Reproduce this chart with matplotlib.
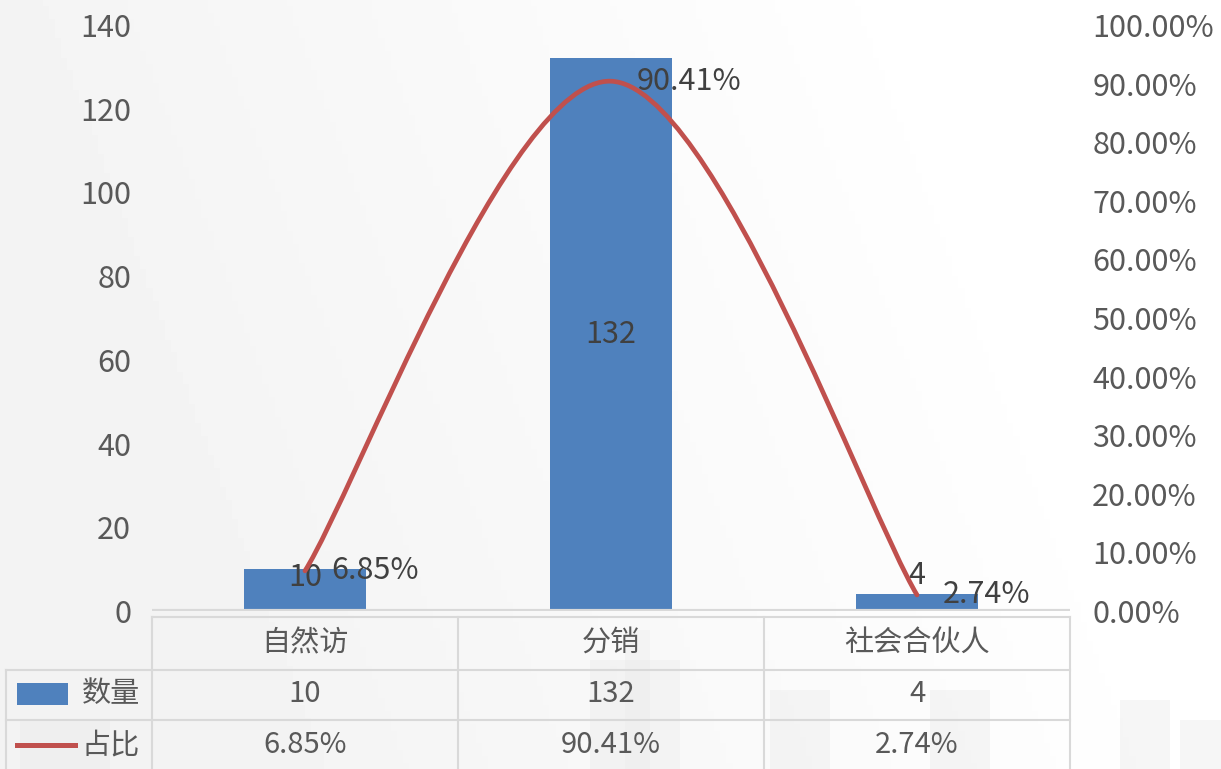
import matplotlib.pyplot as plt
from matplotlib.path import Path
from matplotlib.patches import PathPatch, Rectangle
from matplotlib.lines import Line2D
import numpy as np

plt.rcParams['font.family'] = ['Noto Sans CJK SC', 'DejaVu Sans']

categories = ["自然访", "分销", "社会合伙人"]
counts = [10, 132, 4]
shares = [0.0685, 0.9041, 0.0274]
share_labels = ["6.85%", "90.41%", "2.74%"]
series_names = ["数量", "占比"]

bar_color = '#4F81BD'
line_color = '#C0504D'
tick_color = '#595959'
label_color = '#404040'
grid_color = '#d9d9d9'

W, H = 1221, 769
fig = plt.figure(figsize=(W / 100, H / 100), dpi=100)

# faint background (grey wash + city silhouettes)
bg = fig.add_axes([0, 0, 1, 1], zorder=-10)
bg.set_xlim(0, W)
bg.set_ylim(H, 0)
bg.axis('off')
gx, gy = np.meshgrid(np.linspace(0, 1, 200), np.linspace(0, 1, 120))
wash = 0.955 + 0.045 * np.clip(gx * 1.3 - gy * 0.3, 0, 1)
bg.imshow(wash, extent=[0, W, H, 0], cmap='gray', vmin=0, vmax=1, aspect='auto')
for x0, y0, w in [(590, 660, 90), (625, 630, 25), (770, 690, 60), (930, 690, 60),
                  (1120, 700, 50), (1180, 720, 41), (20, 720, 90)]:
    bg.add_patch(Rectangle((x0, y0), w, H - y0, color='#ececec', alpha=0.45, lw=0))

# main axes
left, right = 152 / W, 1070 / W
bottom, top = (H - 611) / H, (H - 25) / H
ax = fig.add_axes([left, bottom, right - left, top - bottom])
ax.patch.set_alpha(0)
x = np.arange(len(categories))
ax.bar(x, counts, width=0.4, color=bar_color, zorder=2)
ax.set_xlim(-0.5, len(categories) - 0.5)
ax.set_ylim(0, 140)
ax.set_yticks(range(0, 141, 20))
ax.set_xticks([])
for s in ax.spines.values():
    s.set_visible(False)
ax.tick_params(axis='y', length=0, labelsize=22, labelcolor=tick_color, pad=15)
ax.axhline(0, color=grid_color, lw=3, zorder=3)

label_y = [8.1, 66, 8.6]
for xi, c, ly in zip(x, counts, label_y):
    ax.text(xi, ly, str(c), ha='center', va='center', fontsize=22, color=label_color, zorder=5)

ax2 = ax.twinx()
ax2.set_ylim(0, 1)
ax2.set_yticks(np.arange(0, 1.01, 0.1))
ax2.set_yticklabels([f"{v * 100:.2f}%" for v in np.arange(0, 1.01, 0.1)])
for s in ax2.spines.values():
    s.set_visible(False)
ax2.tick_params(axis='y', length=0, labelsize=22, labelcolor=tick_color, pad=16)

# smoothed line (Excel-style bezier through the points)
pts = np.column_stack([x, shares]).astype(float)
ext = np.vstack([pts[0], pts, pts[-1]])
verts = [tuple(pts[0])]
codes = [Path.MOVETO]
for i in range(len(pts) - 1):
    p0, p1, p2, p3 = ext[i], ext[i + 1], ext[i + 2], ext[i + 3]
    verts += [tuple(p1 + (p2 - p0) / 6), tuple(p2 - (p3 - p1) / 6), tuple(p2)]
    codes += [Path.CURVE4] * 3
ax2.add_patch(PathPatch(Path(verts, codes), fill=False, edgecolor=line_color,
                        lw=3.4, capstyle='round', zorder=4))
for xi, v, t in zip(x, shares, share_labels):
    ax2.text(xi + 0.085, v, t, ha='left', va='center', fontsize=22, color=label_color, zorder=5)

# data table
tab = fig.add_axes([0, 0, 1, 1], zorder=5)
tab.set_xlim(0, W)
tab.set_ylim(H, 0)
tab.axis('off')
col_edges = [152, 458, 764, 1070]
tab.plot([152, 1070], [617, 617], color=grid_color, lw=1.5)
for yy in [670, 720]:
    tab.plot([6, 1070], [yy, yy], color=grid_color, lw=1.5)
for xe in col_edges:
    tab.plot([xe, xe], [617, H], color=grid_color, lw=1.5)
tab.plot([6, 6], [670, H], color=grid_color, lw=1.5)
centers = [(a + b) / 2 for a, b in zip(col_edges[:-1], col_edges[1:])]
for cx, cat, c, t in zip(centers, categories, counts, share_labels):
    tab.text(cx, 643, cat, ha='center', va='center', fontsize=21, color=tick_color)
    tab.text(cx, 694, str(c), ha='center', va='center', fontsize=21, color=tick_color)
    tab.text(cx, 745, t, ha='center', va='center', fontsize=21, color=tick_color)
tab.add_patch(Rectangle((17, 683), 51, 22, color=bar_color, lw=0))
tab.add_line(Line2D([17, 75], [745, 745], color=line_color, lw=3.6))
tab.text(82, 694, series_names[0], ha='left', va='center', fontsize=21, color=tick_color)
tab.text(82, 745, series_names[1], ha='left', va='center', fontsize=21, color=tick_color)

fig.savefig('out.png', dpi=100)
